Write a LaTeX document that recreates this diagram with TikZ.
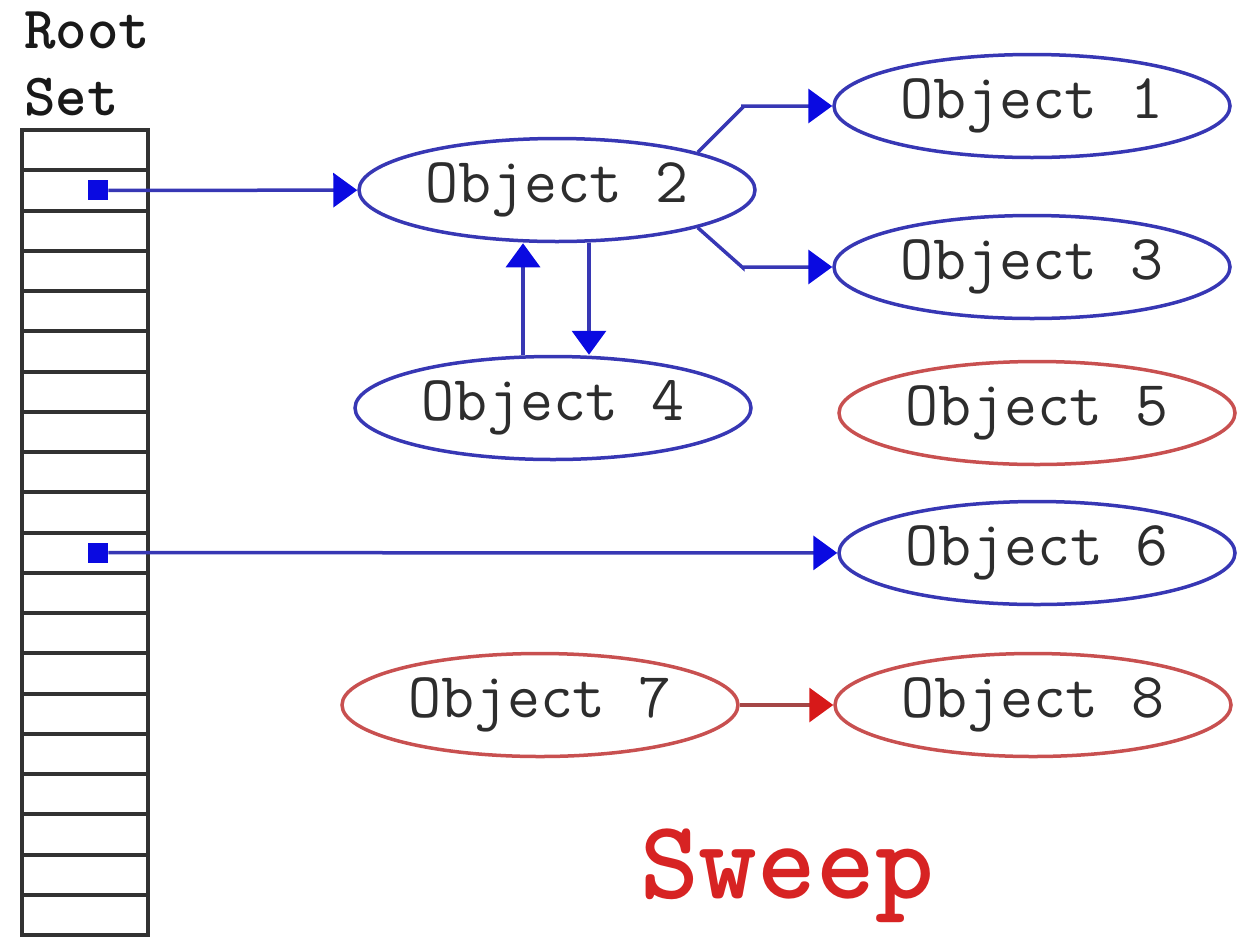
\documentclass[tikz,border=0pt]{standalone}
\usepackage{fontspec}
\usetikzlibrary{shapes.geometric,arrows.meta}
\definecolor{objblue}{RGB}{55,55,180}
\definecolor{tipblue}{RGB}{10,10,225}
\definecolor{objred}{RGB}{200,80,80}
\definecolor{linkred}{RGB}{165,70,70}
\definecolor{tipred}{RGB}{215,25,25}
\definecolor{sweepred}{RGB}{215,35,35}
\definecolor{txtgray}{RGB}{45,45,45}
\definecolor{gridgray}{RGB}{50,50,50}

\begin{document}
\begin{tikzpicture}[x=0.5pt,y=-0.5pt,
  obj/.style={ellipse,draw=objblue,line width=1.75pt,minimum width=198pt,minimum height=51.5pt,inner sep=0pt,text=txtgray,font=\ttfamily\fontsize{32}{38}\selectfont},
  deadobj/.style={obj,draw=objred},
  cell/.style={draw=gridgray,line width=2pt,minimum width=63pt,minimum height=20.125pt,inner sep=0pt},
  ptr/.style={fill=tipblue,minimum size=10pt,inner sep=0pt},
  link/.style={draw=objblue,line width=1.75pt,-{Triangle[length=12pt,width=17pt,color=tipblue]}},
  deadlink/.style={draw=linkred,line width=1.75pt,-{Triangle[length=12pt,width=17pt,color=tipred]}},
  lbl/.style={inner sep=0pt,anchor=base west,text=black!90,font=\ttfamily\bfseries\fontsize{30}{36}\selectfont}]
\useasboundingbox (0,0) rectangle (1246,948);

\node[lbl] (rootlbl) at (24,48) {Root};
\node[lbl] (setlbl) at (24,115) {Set};

\foreach \i in {1,...,20}
  \node[cell] (r\i) at (85,{109.875+40.25*\i}) {};
\node[ptr] (p2) at ([xshift=6.5pt]r2.center) {};
\node[ptr] (p11) at ([xshift=6.5pt]r11.center) {};

\node[obj] (o1) at (1032,106) {Object 1};
\node[obj] (o2) at (557,190) {Object 2};
\node[obj] (o3) at (1032,267) {Object 3};
\node[obj] (o4) at (553,408) {Object 4};
\node[deadobj] (o5) at (1037,413) {Object 5};
\node[obj] (o6) at (1037,553) {Object 6};
\node[deadobj] (o7) at (540,705) {Object 7};
\node[deadobj] (o8) at (1033,705) {Object 8};

\draw[link] (p2) -- (o2);
\draw[link] (p11) -- (o6);
\draw[link] (o2.15) -- ++(45,-45) |- (o1.west);
\draw[link] (o2.-15) -- ++(45,40) |- (o3.west);
\draw[link] ([xshift=-15pt]o4.north) -- ([xshift=-15pt]o4.north |- o2.south);
\draw[link] ([xshift=18pt]o4.north |- o2.south) -- ([xshift=18pt]o4.north);
\draw[deadlink] (o7) -- (o8);

\node[inner sep=0pt,anchor=base,text=sweepred,font=\ttfamily\bfseries\fontsize{56}{66}\selectfont] (sweeplbl) at (787,898) {Sweep};
\end{tikzpicture}
\end{document}
